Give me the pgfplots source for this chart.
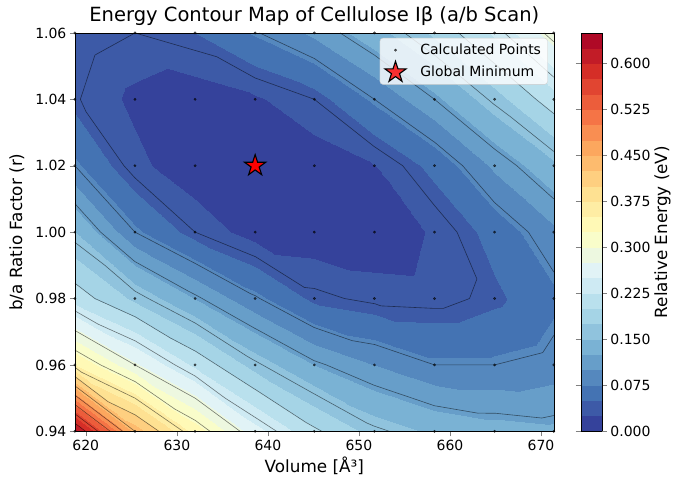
\documentclass[border=0pt]{standalone}
\usepackage{fontspec}
\setmainfont{DejaVu Sans}
\usepackage{pgfplots}
\usepackage{pgfplotstable}
\pgfplotsset{compat=1.18}

\newcommand\ticksize{\fontsize{13.9bp}{16bp}\selectfont}
\newcommand\labsize{\fontsize{16.7bp}{20bp}\selectfont}
\newcommand\titsize{\fontsize{19.4bp}{23bp}\selectfont}

% relative energy (eV) on the volume x (b/a) scan grid; x varies fastest
\pgfplotstableread{
x y E
618.8 0.94 0.635
625.4 0.94 0.44
632.0 0.94 0.34
638.6 0.94 0.26
645.1 0.94 0.205
651.7 0.94 0.165
658.3 0.94 0.145
664.9 0.94 0.135
671.4 0.94 0.13
618.8 0.96 0.35
625.4 0.96 0.28
632.0 0.96 0.22
638.6 0.96 0.165
645.1 0.96 0.125
651.7 0.96 0.10
658.3 0.96 0.08
664.9 0.96 0.08
671.4 0.96 0.088
618.8 0.98 0.215
625.4 0.98 0.17
632.0 0.98 0.125
638.6 0.98 0.083
645.1 0.98 0.045
651.7 0.98 0.035
658.3 0.98 0.033
664.9 0.98 0.045
671.4 0.98 0.07
618.8 1.00 0.15
625.4 1.00 0.08
632.0 1.00 0.04
638.6 1.00 0.015
645.1 1.00 0.012
651.7 1.00 0.01
658.3 1.00 0.028
664.9 1.00 0.06
671.4 1.00 0.095
618.8 1.02 0.08
625.4 1.02 0.031
632.0 1.02 0.01
638.6 1.02 0.0
645.1 1.02 0.012
651.7 1.02 0.024
658.3 1.02 0.058
664.9 1.02 0.105
671.4 1.02 0.145
618.8 1.04 0.042
625.4 1.04 0.02
632.0 1.04 0.012
638.6 1.04 0.022
645.1 1.04 0.04
651.7 1.04 0.08
658.3 1.04 0.12
664.9 1.04 0.165
671.4 1.04 0.215
618.8 1.06 0.05
625.4 1.06 0.04
632.0 1.06 0.05
638.6 1.06 0.078
645.1 1.06 0.105
651.7 1.06 0.14
658.3 1.06 0.18
664.9 1.06 0.23
671.4 1.06 0.29
}\gridtab

% RdYlBu (reversed), one colour per 0.025 eV band from 0 to 0.65
\pgfplotsset{colormap={rdylbuR}{
rgb255(0cm)=(53,66,155)
rgb255(1cm)=(61,90,167)
rgb255(2cm)=(68,115,179)
rgb255(3cm)=(85,136,190)
rgb255(4cm)=(103,158,201)
rgb255(5cm)=(122,178,212)
rgb255(6cm)=(144,195,221)
rgb255(7cm)=(165,212,230)
rgb255(8cm)=(185,224,237)
rgb255(9cm)=(206,234,243)
rgb255(10cm)=(225,243,246)
rgb255(11cm)=(237,248,224)
rgb255(12cm)=(249,253,202)
rgb255(13cm)=(255,249,182)
rgb255(14cm)=(254,237,164)
rgb255(15cm)=(254,225,146)
rgb255(16cm)=(254,207,128)
rgb255(17cm)=(253,187,110)
rgb255(18cm)=(252,167,94)
rgb255(19cm)=(249,142,82)
rgb255(20cm)=(245,116,70)
rgb255(21cm)=(236,93,59)
rgb255(22cm)=(225,69,49)
rgb255(23cm)=(213,46,39)
rgb255(24cm)=(194,28,39)
rgb255(25cm)=(175,9,38)
rgb255(26cm)=(175,9,38)
}}

% filled five-pointed star
\pgfdeclareplotmark{mplstar}{%
  \pgfpathmoveto{\pgfpointpolar{90}{\pgfplotmarksize}}%
  \pgfpathlineto{\pgfpointpolar{126}{0.382*\pgfplotmarksize}}%
  \pgfpathlineto{\pgfpointpolar{162}{\pgfplotmarksize}}%
  \pgfpathlineto{\pgfpointpolar{198}{0.382*\pgfplotmarksize}}%
  \pgfpathlineto{\pgfpointpolar{234}{\pgfplotmarksize}}%
  \pgfpathlineto{\pgfpointpolar{270}{0.382*\pgfplotmarksize}}%
  \pgfpathlineto{\pgfpointpolar{306}{\pgfplotmarksize}}%
  \pgfpathlineto{\pgfpointpolar{342}{0.382*\pgfplotmarksize}}%
  \pgfpathlineto{\pgfpointpolar{18}{\pgfplotmarksize}}%
  \pgfpathlineto{\pgfpointpolar{54}{0.382*\pgfplotmarksize}}%
  \pgfpathclose
  \pgfusepathqfillstroke
}

% ---- contour lines: linear interpolation on the grid triangles ----
\newcommand\clEdge[6]{% xa ya za xb yb zb
  \ifdim#3pt<\cllev pt\relax\def\cla{1}\else\def\cla{0}\fi
  \ifdim#6pt<\cllev pt\relax\def\clb{1}\else\def\clb{0}\fi
  \ifx\cla\clb\else
    \pgfmathsetmacro\clt{(\cllev-#3)/(#6-#3)}%
    \pgfmathsetmacro\clcx{#1+\clt*(#4-#1)}%
    \pgfmathsetmacro\clcy{#2+\clt*(#5-#2)}%
    \edef\clpts{\clpts(\clcx,\clcy) }%
    \pgfmathtruncatemacro\clnpts{\clnpts+1}%
  \fi
}
\newcommand\clTri[9]{%
  \def\clpts{}\def\clnpts{0}%
  \clEdge{#1}{#2}{#3}{#4}{#5}{#6}%
  \clEdge{#4}{#5}{#6}{#7}{#8}{#9}%
  \clEdge{#7}{#8}{#9}{#1}{#2}{#3}%
  \ifnum\clnpts=2 \xdef\clsegs{\clsegs\clpts(nan,nan) }\fi
}
\gdef\clsegs{}

\begin{document}
% grid values into macros
\foreach \j in {0,...,6}{%
  \foreach \i in {0,...,8}{%
    \pgfmathtruncatemacro\r{\j*9+\i}%
    \pgfplotstablegetelem{\r}{E}\of\gridtab
    \expandafter\xdef\csname clE\i-\j\endcsname{\pgfplotsretval}%
    \pgfplotstablegetelem{\r}{x}\of\gridtab
    \expandafter\xdef\csname clX\i\endcsname{\pgfplotsretval}%
    \pgfplotstablegetelem{\r}{y}\of\gridtab
    \expandafter\xdef\csname clY\j\endcsname{\pgfplotsretval}%
  }%
}%
% trace the 0.04 eV contour levels
\foreach \cllev in {0.04,0.08,0.12,0.16,0.2,0.24,0.28,0.32,0.36,0.4,0.44,0.48,0.52,0.56,0.6}{%
  \foreach \j [evaluate=\j as \jj using int(\j+1)] in {0,...,5}{%
    \foreach \i [evaluate=\i as \ii using int(\i+1)] in {0,...,7}{%
      \edef\cldo{\noexpand\clTri
        {\csname clX\i\endcsname}{\csname clY\j\endcsname}{\csname clE\i-\j\endcsname}%
        {\csname clX\ii\endcsname}{\csname clY\j\endcsname}{\csname clE\ii-\j\endcsname}%
        {\csname clX\i\endcsname}{\csname clY\jj\endcsname}{\csname clE\i-\jj\endcsname}}\cldo
      \edef\cldo{\noexpand\clTri
        {\csname clX\ii\endcsname}{\csname clY\j\endcsname}{\csname clE\ii-\j\endcsname}%
        {\csname clX\ii\endcsname}{\csname clY\jj\endcsname}{\csname clE\ii-\jj\endcsname}%
        {\csname clX\i\endcsname}{\csname clY\jj\endcsname}{\csname clE\i-\jj\endcsname}}\cldo
    }%
  }%
}%
\def\clplot{\addplot[black, opacity=0.5, line width=0.6bp, forget plot, unbounded coords=jump] coordinates}%
\begin{tikzpicture}
\begin{axis}[
  scale only axis, width=476bp, height=396bp,
  xmin=618.8, xmax=671.4, ymin=0.94, ymax=1.06,
  xtick={620,630,640,650,660,670},
  ytick={0.94,0.96,0.98,1.00,1.02,1.04,1.06},
  yticklabel style={/pgf/number format/.cd, fixed, fixed zerofill, precision=2},
  /pgf/number format/assume math mode=true,
  tick label style={font=\ticksize},
  tick align=outside, tick pos=left, major tick length=4.9bp,
  xlabel={Volume [Å³]}, ylabel={b/a Ratio Factor (r)},
  label style={font=\labsize},
  ylabel shift=4bp,
  title={Energy Contour Map of Cellulose Iβ (a/b Scan)},
  title style={font=\titsize, yshift=-2bp},
  colormap name=rdylbuR, colormap access=piecewise constant,
  point meta min=0, point meta max=0.65,
  colorbar,
  colorbar shift/.style={xshift=23bp},
  colorbar style={
    width=21bp,
    colormap access=piecewise constant,
    ytick={0,0.075,0.15,0.225,0.3,0.375,0.45,0.525,0.6},
    yticklabel style={font=\ticksize, /pgf/number format/.cd, fixed, fixed zerofill, precision=3, assume math mode=true},
    ylabel={Relative Energy (eV)},
    ylabel style={font=\labsize},
    ylabel shift=-3bp,
    tick align=outside, major tick length=4.9bp,
  },
  axis on top,
  legend cell align=left,
  legend image code/.code={%
    \draw[mark repeat=2, mark phase=2, #1] plot coordinates {(0bp,0bp) (14bp,0bp) (28bp,0bp)};
    \path (37bp,0bp);},
  legend style={at={(1,1)}, anchor=north east, xshift=-6bp, yshift=-5bp,
    font=\ticksize, fill=white, fill opacity=0.8, text opacity=1,
    draw=black!20, rounded corners=3bp, inner xsep=5bp, inner ysep=1bp,
    nodes={inner xsep=1.5bp, inner ysep=0bp, minimum height=22bp}},
]
\addplot[surf, shader=interp, forget plot, mesh/cols=9, point meta=\thisrow{E}]
  table[x=x, y=y] {\gridtab};
\expandafter\clplot\expandafter{\clsegs};
\addplot[only marks, mark=*, mark size=1.2bp, black,
  mark options={fill opacity=0.6, draw opacity=0.6}] table[x=x, y=y] {\gridtab};
\addlegendentry{Calculated Points}
\addplot[only marks, mark=mplstar, mark size=11bp,
  mark options={fill=red, draw=black, line width=1.1bp}] coordinates {(638.6,1.02)};
\addlegendentry{Global Minimum}
\end{axis}
% white margin around the figure
\path ([xshift=-6bp,yshift=3bp]current bounding box.north west)
  rectangle ([xshift=7bp,yshift=-1bp]current bounding box.south east);
\end{tikzpicture}
\end{document}
